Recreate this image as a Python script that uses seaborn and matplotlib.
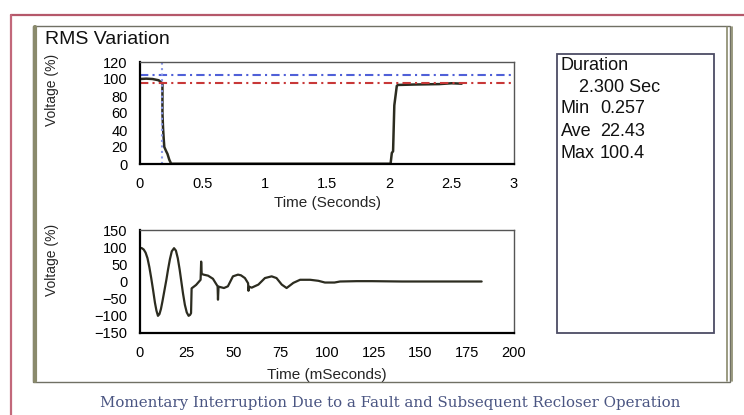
import numpy as np
import pandas as pd
import matplotlib
matplotlib.use("Agg")
import matplotlib.pyplot as plt
import seaborn as sns
from matplotlib.patches import Rectangle
from matplotlib.lines import Line2D

# ---------------- data ----------------
rms_time = [0.0, 0.05, 0.10, 0.15, 0.17, 0.18, 0.18, 0.185, 0.19, 0.195, 0.21, 0.22,
            0.235, 0.25, 1.0, 2.01, 2.02, 2.03, 2.04, 2.06, 2.07, 2.2, 2.4, 2.5, 2.58]
rms_volt = [100.0, 100.4, 100.0, 98.5, 96.0, 95.0, 60.0, 42.0, 30.0, 20.0, 15.0, 12.0,
            5.0, 0.3, 0.3, 0.3, 13.0, 15.0, 69.0, 92.0, 93.0, 93.5, 94.0, 95.0, 94.5]
swell_threshold = 105
sag_threshold = 95
event_time = 0.174

wave_time = [0, 1, 2, 3, 4, 5, 6, 7, 8, 8.8, 9.6, 10.4, 11.2, 12, 13, 14.1, 15, 16,
             17, 18.2, 19.2, 20.2, 21.2, 22.1, 23, 24, 25, 26, 26.8, 27.3, 27.6, 30,
             32.4, 32.7, 33, 34, 36.4, 39, 41.5, 41.7, 42, 44.9, 47, 49.7, 52.4, 54,
             56.1, 57.8, 58, 58.3, 59.7, 63.3, 66.8, 70.4, 73, 75.8, 78.4, 82, 85.6,
             91, 95.4, 98.9, 104, 107, 116, 124, 140, 153, 171, 182.7]
wave_volt = [98, 97, 93, 84, 68, 42, 10, -25, -62, -85, -100, -95, -80, -58, -28, 5, 35, 65,
             88, 97, 90, 68, 35, 0, -35, -68, -90, -100, -97, -92, -20, -10,
             5, 58, 22, 20, 17, 8, -14, -53, -15, -19, -14, 15, 20, 18,
             10, -5, -27, -15, -18, -9, 10, 15, 10, -9, -19, -4, 5,
             5, 2, -3, -3, 0, 1, 1, 0, 0, 0, 0]

rms_xticks = [0, 0.5, 1, 1.5, 2, 2.5, 3]
rms_xticklabels = ["0", "0.5", "1", "1.5", "2", "2.5", "3"]
rms_yticks = [0, 20, 40, 60, 80, 100, 120]
wave_xticks = [0, 25, 50, 75, 100, 125, 150, 175, 200]
wave_yticks = [-150, -100, -50, 0, 50, 100, 150]

summary_title = "Duration"
summary_duration = "2.300 Sec"
summary_labels = ["Min", "Ave", "Max"]
summary_values = ["0.257", "22.43", "100.4"]

panel_title = "RMS Variation"
caption = "Momentary Interruption Due to a Fault and Subsequent Recloser Operation"

# ---------------- style ----------------
sns.set_style("white")
plt.rcParams["font.family"] = ["Liberation Sans Narrow", "Liberation Sans", "DejaVu Sans"]

W, H = 744, 415
fig = plt.figure(figsize=(W / 100, H / 100), dpi=100)
fig.patch.set_facecolor("white")


def fx(px):
    return px / W


def fy(py):
    return 1 - py / H


# outer red frame (top and left edges)
fig.add_artist(Line2D([fx(11), 1.0], [fy(15), fy(15)], color="#b5586a", lw=1.6))
fig.add_artist(Line2D([fx(11), fx(11)], [fy(15), 0.0], color="#c2687a", lw=1.6))

# inner grey panel
fig.add_artist(Rectangle((fx(33), fy(382)), fx(730) - fx(33), fy(26) - fy(382),
                         fill=False, edgecolor="#707064", lw=1.0))
fig.add_artist(Line2D([fx(35), fx(35)], [fy(27), fy(381)], color="#8a8a6c", lw=3.0))
fig.add_artist(Line2D([fx(727), fx(727)], [fy(27), fy(381)], color="#8a8a6c", lw=1.2))
fig.add_artist(Line2D([fx(732), fx(732)], [fy(27), fy(381)], color="#8a8a6c", lw=1.2))

# summary box
fig.add_artist(Rectangle((fx(557), fy(333)), fx(714) - fx(557), fy(54) - fy(333),
                         fill=False, edgecolor="#4c4c64", lw=1.3))

line_col = "#2c2c20"
tick_kw = dict(direction="inout", length=8, width=1.5, colors="black",
               labelsize=10.5, pad=5)


def style_axes(ax):
    for s in ["left", "bottom"]:
        ax.spines[s].set_color("black")
        ax.spines[s].set_linewidth(1.6)
    for s in ["top", "right"]:
        ax.spines[s].set_color("#555555")
        ax.spines[s].set_linewidth(1.0)
    ax.tick_params(axis="both", **tick_kw)
    ax.set_facecolor("white")


# ---------------- top: RMS ----------------
ax1 = fig.add_axes([fx(140), fy(164), fx(514) - fx(140), fy(62) - fy(164)])
rms_df = pd.DataFrame({"Time": rms_time, "Voltage": rms_volt})
sns.lineplot(data=rms_df, x="Time", y="Voltage", ax=ax1, color=line_col, lw=1.8,
             estimator=None, sort=False)
ax1.axhline(swell_threshold, color="#5060d8", lw=1.5, ls=(0, (4, 2, 1, 2)))
ax1.axhline(sag_threshold, color="#c83838", lw=1.5, ls=(0, (4, 2, 1, 2)))
ax1.axvline(event_time, color="#8a98e6", lw=1.5, ls=":")
ax1.set_xlim(0, 3)
ax1.set_ylim(0, 120)
ax1.set_xticks(rms_xticks)
ax1.set_xticklabels(rms_xticklabels)
ax1.set_yticks(rms_yticks)
style_axes(ax1)
ax1.set_xlabel("Time (Seconds)", fontsize=11, va="center")
ax1.xaxis.set_label_coords(0.5, (164 - 203) / 102)
ax1.set_ylabel("Voltage (%)", fontsize=10, va="center")
ax1.yaxis.set_label_coords((52 - 140) / 374, (164 - 90) / 102)

# ---------------- bottom: waveform ----------------
ax2 = fig.add_axes([fx(140), fy(333), fx(514) - fx(140), fy(230) - fy(333)])
wave_df = pd.DataFrame({"Time": wave_time, "Voltage": wave_volt})
sns.lineplot(data=wave_df, x="Time", y="Voltage", ax=ax2, color=line_col, lw=1.6,
             estimator=None, sort=False)
ax2.set_xlim(0, 200)
ax2.set_ylim(-150, 150)
ax2.set_xticks(wave_xticks)
ax2.set_yticks(wave_yticks)
ax2.set_yticklabels([str(v).replace("-", "\u2212") for v in wave_yticks])
style_axes(ax2)
ax2.set_xlabel("Time (mSeconds)", fontsize=11, va="center")
ax2.xaxis.set_label_coords(0.5, (333 - 375) / 103)
ax2.set_ylabel("Voltage (%)", fontsize=10, va="center")
ax2.yaxis.set_label_coords((52 - 140) / 374, (333 - 260) / 103)

# ---------------- texts ----------------
fig.text(fx(45), fy(40), panel_title, fontsize=14, ha="left", va="center", color="#111111")
fig.text(fx(561), fy(65), summary_title, fontsize=13, ha="left", va="center", color="#111111")
fig.text(fx(579), fy(87), summary_duration, fontsize=13, ha="left", va="center", color="#111111")
for i, (lab, val) in enumerate(zip(summary_labels, summary_values)):
    yy = [108, 131, 153][i]
    fig.text(fx(561), fy(yy), lab, fontsize=13, ha="left", va="center", color="#111111")
    fig.text(fx(600), fy(yy), val, fontsize=13, ha="left", va="center", color="#111111")

fig.text(fx(390), fy(403), caption, fontsize=10.8, ha="center", va="center",
         color="#4a5582", family=["DejaVu Serif"])

fig.savefig("out.png", dpi=100, facecolor="white")
